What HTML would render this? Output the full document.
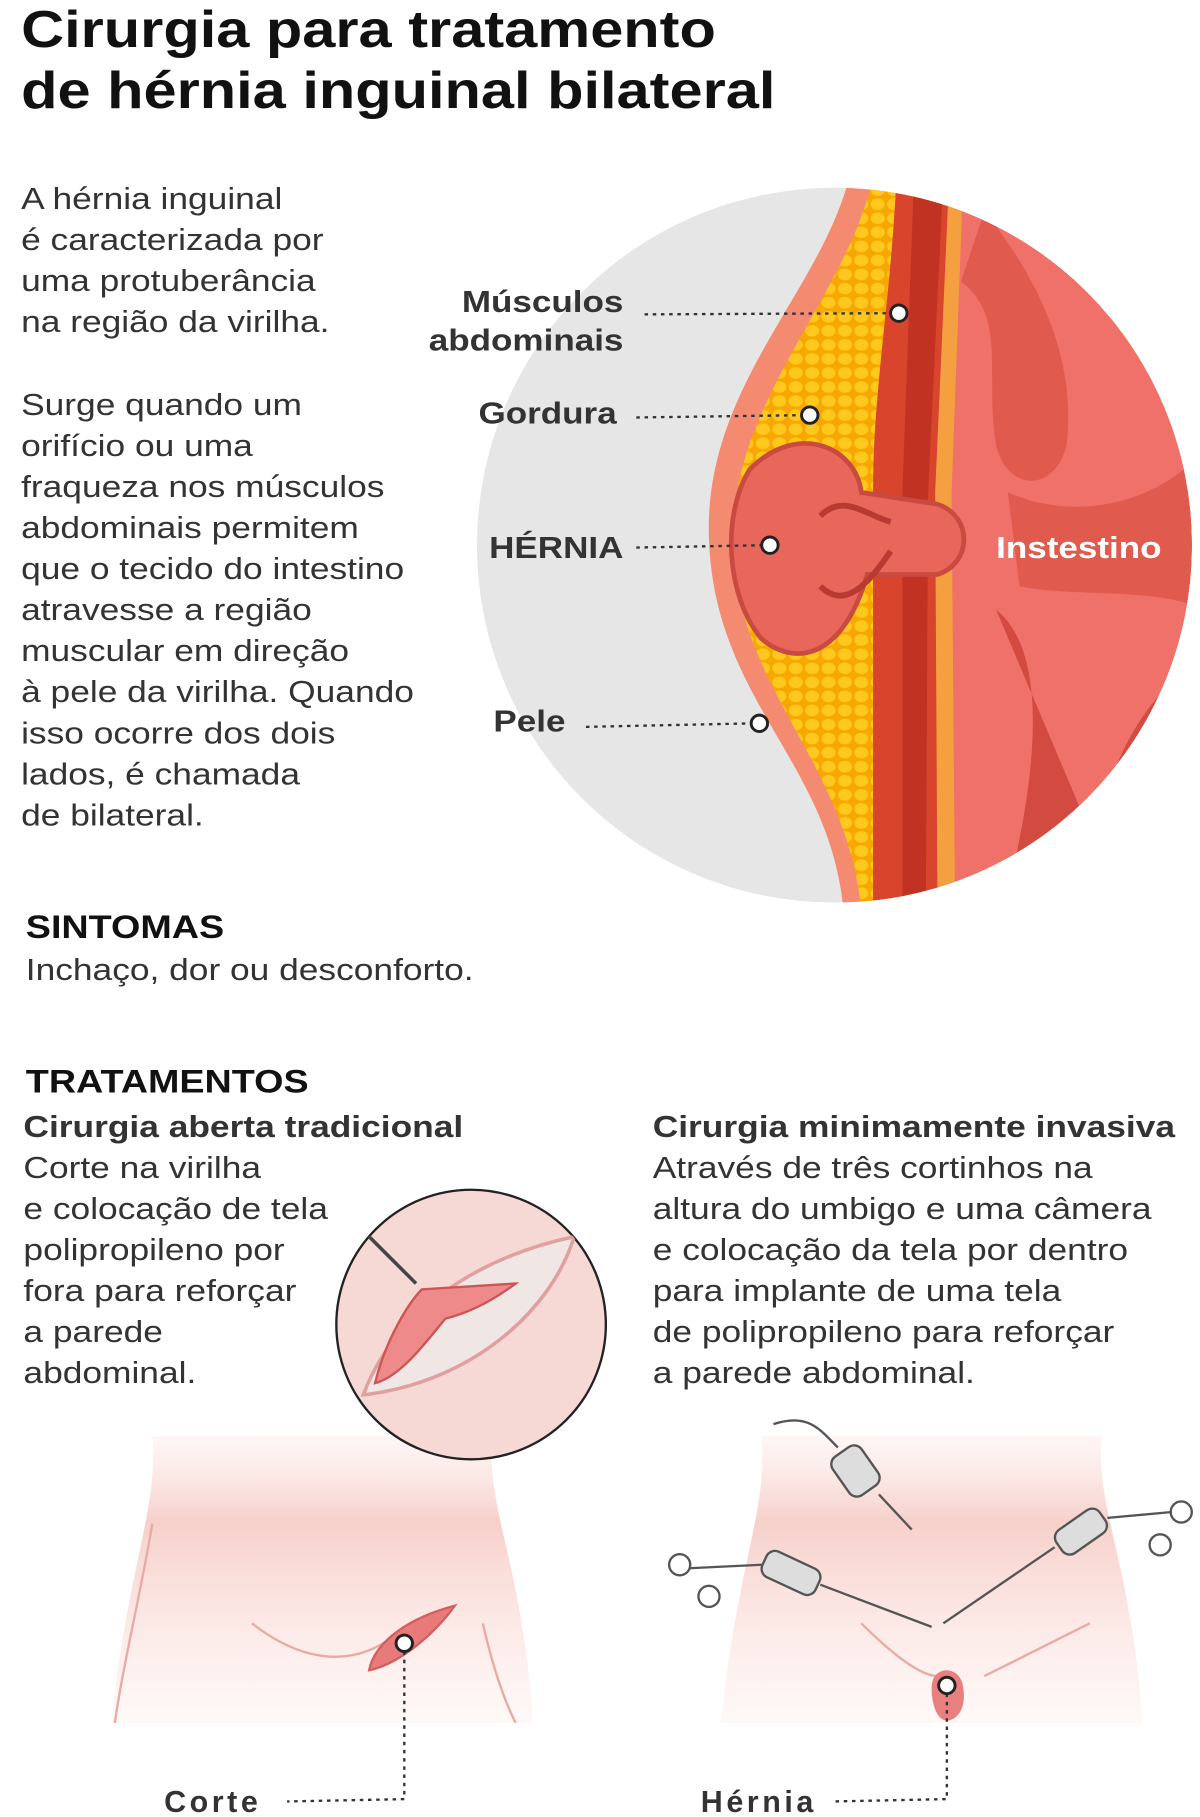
<!DOCTYPE html>
<html><head><meta charset="utf-8"><style>
html,body{margin:0;padding:0;background:#fff;}
svg{display:block;font-family:"Liberation Sans",sans-serif;}
</style></head><body>
<svg width="1200" height="1817" viewBox="0 0 1024 1550" xmlns="http://www.w3.org/2000/svg">
<defs>
<clipPath id="cc"><circle cx="712" cy="465" r="305"/></clipPath>
<clipPath id="c2"><circle cx="402" cy="1130" r="115"/></clipPath>
<linearGradient id="body" x1="0" y1="0" x2="0" y2="1"><stop offset="0" stop-color="#fbe4e1" stop-opacity="0.3"/><stop offset="0.3" stop-color="#f7d0cb"/><stop offset="1" stop-color="#fde9e6" stop-opacity="0.3"/></linearGradient>
<pattern id="fat" width="14" height="12" patternUnits="userSpaceOnUse"><rect width="14" height="12" fill="#f6a800"/><ellipse cx="7" cy="6" rx="6" ry="5" fill="#ffc81e"/></pattern>
</defs>
<g fill="#111" font-weight="bold" font-size="44" transform="translate(18,0) scale(1.155,1) translate(-18,0)">
<text x="18" y="40">Cirurgia para tratamento</text>
<text x="18" y="92">de hérnia inguinal bilateral</text>
</g>
<g fill="#333" font-size="26" transform="translate(18,0) scale(1.16,1) translate(-18,0)">
<text x="18" y="178">A hérnia inguinal</text>
<text x="18" y="213">é caracterizada por</text>
<text x="18" y="248">uma protuberância</text>
<text x="18" y="283">na região da virilha.</text>
<text x="18" y="354">Surge quando um</text>
<text x="18" y="389">orifício ou uma</text>
<text x="18" y="424">fraqueza nos músculos</text>
<text x="18" y="459">abdominais permitem</text>
<text x="18" y="494">que o tecido do intestino</text>
<text x="18" y="529">atravesse a região</text>
<text x="18" y="564">muscular em direção</text>
<text x="18" y="599">à pele da virilha. Quando</text>
<text x="18" y="634">isso ocorre dos dois</text>
<text x="18" y="669">lados, é chamada</text>
<text x="18" y="704">de bilateral.</text>
</g>
<circle cx="712" cy="465" r="305" fill="#e6e6e6"/>
<g clip-path="url(#cc)">
<path d="M725,150 C700,250 600,330 605,460 C610,600 710,650 720,780 L1030,780 L1030,150Z" fill="#f48a70"/>
<path d="M745,150 C725,250 625,340 625,460 C628,590 725,650 735,780 L1030,780 L1030,150Z" fill="url(#fat)"/>
<path d="M765,150 C760,260 745,330 745,420 L745,780 L1030,780 L1030,150Z" fill="#d9442c"/>
<path d="M780,150 L770,420 L770,780 L790,780 L792,420 L805,150Z" fill="#c23222"/>
<path d="M810,150 L798,420 L800,780 L820,780 L818,420 L830,150Z" fill="#f5a040"/>
<path d="M822,150 L812,420 L815,780 L1030,780 L1030,150Z" fill="#f0706a"/>
<path d="M840,180 C880,230 920,300 910,380 C900,420 860,420 850,380 C840,320 860,270 820,240Z" fill="#e15a4e"/>
<path d="M860,420 C930,450 1000,420 1030,380 L1030,520 C980,500 920,510 870,500Z" fill="#e15a4e"/>
<path d="M850,520 C900,560 880,680 860,760 L920,760 C940,680 960,600 1030,560 L1030,620 C980,660 960,720 960,780Z" fill="#d24a40"/>
<path d="M640,400 C680,360 730,380 735,420 L800,430 C830,440 830,480 800,490 L740,490 C720,560 680,570 650,545 C620,510 615,440 640,400Z" fill="#e8665a" stroke="#c94a40" stroke-width="4"/>
<path d="M700,440 C720,420 740,440 760,445" stroke="#b83a32" stroke-width="5" fill="none"/>
<path d="M700,500 C720,520 740,500 760,470" stroke="#b83a32" stroke-width="5" fill="none"/>
</g>
<g transform="translate(850,0) scale(1.15,1) translate(-850,0)">
<text x="850" y="476" fill="#fff" font-weight="bold" font-size="26">Instestino</text>
</g>
<g fill="#333" font-weight="bold" font-size="26" transform="translate(532,0) scale(1.15,1) translate(-532,0)">
<text x="532" y="266" text-anchor="end">Músculos</text>
<text x="532" y="299" text-anchor="end">abdominais</text>
<text x="527" y="361" text-anchor="end">Gordura</text>
<text x="532" y="476" text-anchor="end">HÉRNIA</text>
<text x="489" y="624" text-anchor="end">Pele</text>
</g>
<g stroke="#333" stroke-width="2" stroke-dasharray="3,4" fill="none">
<line x1="550" y1="268" x2="762" y2="267"/>
<line x1="543" y1="356" x2="686" y2="354"/>
<line x1="543" y1="467" x2="652" y2="465"/>
<line x1="500" y1="620" x2="643" y2="617"/>
</g>
<g fill="#fff" stroke="#222" stroke-width="2.5">
<circle cx="767" cy="267" r="7"/><circle cx="691" cy="354" r="7"/><circle cx="657" cy="465" r="7"/><circle cx="648" cy="617" r="7"/>
</g>
<g fill="#111" font-weight="bold" font-size="28" transform="translate(22,0) scale(1.15,1) translate(-22,0)">
<text x="22" y="800">SINTOMAS</text>
<text x="22" y="932">TRATAMENTOS</text>
</g>
<g transform="translate(22,0) scale(1.16,1) translate(-22,0)">
<text x="22" y="836" fill="#333" font-size="26">Inchaço, dor ou desconforto.</text>
</g>
<g fill="#333" font-weight="bold" font-size="26" transform="translate(20,0) scale(1.16,1) translate(-20,0)">
<text x="20" y="970">Cirurgia aberta tradicional</text>
</g>
<g fill="#333" font-weight="bold" font-size="26" transform="translate(557,0) scale(1.16,1) translate(-557,0)">
<text x="557" y="970">Cirurgia minimamente invasiva</text>
</g>
<g fill="#333" font-size="26" transform="translate(20,0) scale(1.16,1) translate(-20,0)">
<text x="20" y="1005">Corte na virilha</text>
<text x="20" y="1040">e colocação de tela</text>
<text x="20" y="1075">polipropileno por</text>
<text x="20" y="1110">fora para reforçar</text>
<text x="20" y="1145">a parede</text>
<text x="20" y="1180">abdominal.</text>
</g>
<g fill="#333" font-size="26" transform="translate(557,0) scale(1.16,1) translate(-557,0)">
<text x="557" y="1005">Através de três cortinhos na</text>
<text x="557" y="1040">altura do umbigo e uma câmera</text>
<text x="557" y="1075">e colocação da tela por dentro</text>
<text x="557" y="1110">para  implante de uma tela</text>
<text x="557" y="1145">de polipropileno para reforçar</text>
<text x="557" y="1180">a parede abdominal.</text>
</g>
<path d="M130,1225 C135,1290 110,1330 95,1470 L455,1470 C445,1330 415,1290 420,1225Z" fill="url(#body)"/>
<path d="M215,1385 C260,1420 300,1420 330,1400 M412,1385 C420,1420 430,1450 440,1470 M130,1300 C120,1360 105,1420 98,1470" stroke="#e8aaa4" stroke-width="2" fill="none"/>
<path d="M315,1425 C320,1400 350,1380 388,1370 C370,1395 340,1420 315,1425Z" fill="#e87a7a" stroke="#d06060" stroke-width="2"/>
<path d="M650,1225 C655,1290 630,1330 615,1470 L975,1470 C965,1330 935,1290 940,1225Z" fill="url(#body)"/>
<path d="M735,1385 C770,1420 790,1430 800,1430 M840,1430 C860,1420 900,1400 930,1385" stroke="#e8aaa4" stroke-width="2" fill="none"/>
<path d="M795,1440 C795,1420 820,1420 822,1440 C825,1460 815,1468 808,1468 C800,1468 795,1455 795,1440Z" fill="#e88080"/>
<g stroke="#555" stroke-width="2" fill="#ddd">
<path d="M660,1215 C690,1205 700,1220 715,1235" fill="none"/>
<rect x="710" y="1240" width="40" height="30" rx="8" transform="rotate(55 730 1255)"/>
<line x1="750" y1="1275" x2="778" y2="1305"/>
<rect x="650" y="1330" width="50" height="24" rx="8" transform="rotate(25 675 1342)"/>
<line x1="700" y1="1352" x2="795" y2="1388"/>
<circle cx="580" cy="1335" r="9" fill="none"/><circle cx="605" cy="1362" r="9" fill="none"/>
<line x1="588" y1="1338" x2="650" y2="1335"/>
<rect x="900" y="1295" width="45" height="24" rx="8" transform="rotate(-35 922 1307)"/>
<line x1="900" y1="1320" x2="805" y2="1385"/>
<circle cx="1008" cy="1290" r="9" fill="none"/><circle cx="990" cy="1318" r="9" fill="none"/>
<line x1="1000" y1="1290" x2="945" y2="1295"/>
</g>
<circle cx="402" cy="1130" r="115" fill="#f6d8d4" stroke="#222" stroke-width="2"/>
<g clip-path="url(#c2)">
<path d="M310,1190 C340,1110 420,1070 490,1055 C470,1120 400,1180 310,1190Z" fill="#f0e6e4" stroke="#e0a0a0" stroke-width="3"/>
<path d="M320,1180 C330,1140 350,1110 360,1100 L440,1095 C420,1110 400,1120 380,1125 C360,1150 340,1175 320,1180Z" fill="#ee8a8a" stroke="#c55" stroke-width="2"/>
<path d="M310,1050 L355,1095" stroke="#444" stroke-width="3"/>
</g>
<g stroke="#333" stroke-width="2" stroke-dasharray="3,4" fill="none">
<path d="M345,1402 L345,1535 L245,1537"/>
<path d="M808,1438 L808,1535 L710,1537"/>
</g>
<g fill="#fff" stroke="#222" stroke-width="2.5">
<circle cx="345" cy="1402" r="7"/><circle cx="808" cy="1438" r="7"/>
</g>
<g fill="#333" font-weight="bold" font-size="26">
<text x="140" y="1546" textLength="80">Corte</text>
<text x="598" y="1546" textLength="96">Hérnia</text>
</g>
</svg>
</body></html>
